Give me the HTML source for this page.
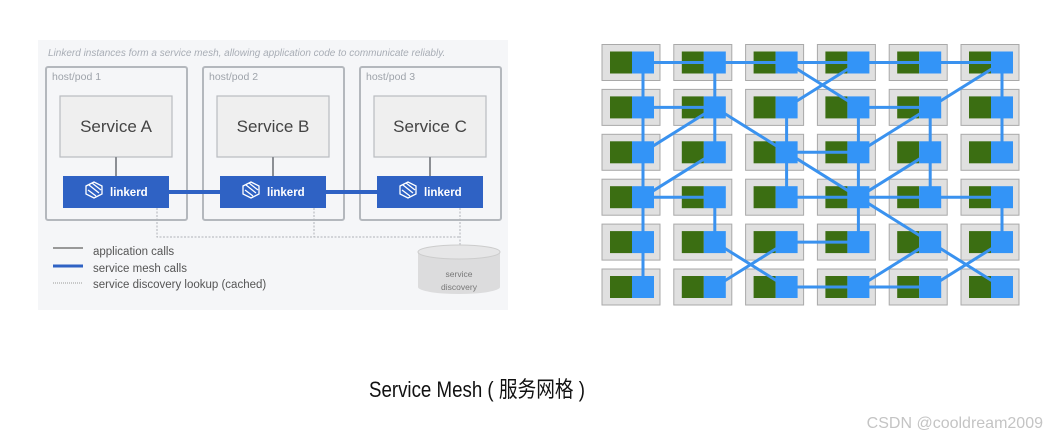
<!DOCTYPE html>
<html><head><meta charset="utf-8"><style>
html,body{margin:0;padding:0;background:#fff;width:1050px;height:437px;overflow:hidden}
svg{display:block}
text{font-family:"Liberation Sans","Noto Sans CJK SC",sans-serif}
</style></head><body>
<svg id="s" width="1050" height="437" viewBox="0 0 1050 437" xmlns="http://www.w3.org/2000/svg">
<rect x="38" y="40" width="470" height="270" fill="#f5f6f8"/>
<text x="48" y="56" font-size="10" font-style="italic" fill="#a8adb5">Linkerd instances form  a service mesh, allowing application code to communicate reliably.</text>
<g fill="none" stroke="#b4b8bd" stroke-width="2">
<rect x="46" y="67" width="141" height="153" rx="2"/>
<rect x="203" y="67" width="141" height="153" rx="2"/>
<rect x="360" y="67" width="141" height="153" rx="2"/>
</g>
<g font-size="10.5" fill="#9ea3aa"><text x="52" y="80">host/pod 1</text><text x="209" y="80">host/pod 2</text><text x="366" y="80">host/pod 3</text></g>
<g fill="#efefef" stroke="#b9bcc0" stroke-width="1.2">
<rect x="60" y="96" width="112" height="61"/><rect x="217" y="96" width="112" height="61"/><rect x="374" y="96" width="112" height="61"/>
</g>
<g font-size="17" fill="#444" text-anchor="middle"><text x="116" y="132">Service A</text><text x="273" y="132">Service B</text><text x="430" y="132">Service C</text></g>
<g stroke="#8c8f94" stroke-width="2"><line x1="116" y1="157" x2="116" y2="176"/><line x1="273" y1="157" x2="273" y2="176"/><line x1="430" y1="157" x2="430" y2="176"/></g>
<g stroke="#b0b3b8" stroke-width="1" stroke-dasharray="2,1.5" fill="none">
<polyline points="157,208 157,237 460,237"/><line x1="314" y1="208" x2="314" y2="237"/><line x1="460" y1="208" x2="460" y2="248"/>
</g>
<line x1="169" y1="192" x2="377" y2="192" stroke="#2f62c4" stroke-width="4"/>
<g fill="#2f62c4"><rect x="63" y="176" width="106" height="32"/><rect x="220" y="176" width="106" height="32"/><rect x="377" y="176" width="106" height="32"/></g>
<g font-size="11.5" fill="#fff" font-weight="bold"><text x="110" y="196">linkerd</text><text x="267" y="196">linkerd</text><text x="424" y="196">linkerd</text></g>
<g stroke="#fff" stroke-width="1.3" fill="none">
<path d="M86,186 l8,-4 l8,4 v8 l-8,4 l-8,-4 z M89,185 l10,8 M92,183 l9,7 M88,190 l8,6"/>
<path d="M243,186 l8,-4 l8,4 v8 l-8,4 l-8,-4 z M246,185 l10,8 M249,183 l9,7 M245,190 l8,6"/>
<path d="M400,186 l8,-4 l8,4 v8 l-8,4 l-8,-4 z M403,185 l10,8 M406,183 l9,7 M402,190 l8,6"/>
</g>
<path d="M418,252 v35 a41,7 0 0 0 82,0 v-35" fill="#dcdcdd"/>
<ellipse cx="459" cy="252" rx="41" ry="7" fill="#e6e6e7" stroke="#ccc"/>
<g font-size="8.5" fill="#777" text-anchor="middle"><text x="459" y="277">service</text><text x="459" y="290">discovery</text></g>
<line x1="53" y1="248" x2="83" y2="248" stroke="#999" stroke-width="2"/>
<line x1="53" y1="266" x2="83" y2="266" stroke="#2f62c4" stroke-width="3"/>
<line x1="53" y1="283" x2="83" y2="283" stroke="#999" stroke-width="1" stroke-dasharray="1,1"/>
<g font-size="11.5" fill="#555"><text x="93" y="255">application calls</text><text x="93" y="272">service mesh calls</text><text x="93" y="288">service discovery lookup (cached)</text></g>
<g id="grid"></g>
<g id="edges" stroke="#3a92ef" stroke-width="3"></g>
<g id="blues" fill="#3394f7"></g>
<text x="369" y="397" font-size="22" fill="#111" textLength="216" lengthAdjust="spacingAndGlyphs">Service Mesh ( 服务网格 )</text>
<text x="1043" y="428" font-size="16" fill="#c4c4c4" text-anchor="end">CSDN @cooldream2009</text>
</svg>
<script>
var NS="http://www.w3.org/2000/svg";
function el(p,t,a){var e=document.createElementNS(NS,t);for(var k in a)e.setAttribute(k,a[k]);document.getElementById(p).appendChild(e);}
function X(c){return 602+71.8*c;}function Y(r){return 44.5+44.9*r;}
for(var r=0;r<6;r++)for(var c=0;c<6;c++){
el("grid","rect",{x:X(c),y:Y(r),width:58,height:36,fill:"#e0e0e0",stroke:"#a9a9a9","stroke-width":1});
el("grid","rect",{x:X(c)+8,y:Y(r)+7,width:22,height:22,fill:"#3b6e12"});
el("blues","rect",{x:X(c)+30,y:Y(r)+7,width:22,height:22});}
function cx(c){return X(c)+41;}function cy(r){return Y(r)+18;}
var E=[[0,0,5,0],[0,0,0,5],[1,0,1,2],[0,1,1,1],[1,1,0,2],[1,1,2,2],[2,0,3,1],[3,0,2,1],[2,1,2,3],[3,1,4,1],[4,1,5,0],[5,0,5,2],[3,1,3,4],[4,1,3,2],[4,1,4,3],[2,2,3,2],[2,2,3,3],[1,2,0,3],[0,3,1,3],[2,3,5,3],[4,2,3,3],[3,3,4,4],[1,3,1,4],[5,3,5,4],[2,4,3,4],[1,4,2,5],[2,4,1,5],[4,4,5,5],[5,4,4,5],[2,5,4,5],[3,5,4,4]];
E.forEach(function(e){el("edges","line",{x1:cx(e[0]),y1:cy(e[1]),x2:cx(e[2]),y2:cy(e[3])});});
</script>
</body></html>
